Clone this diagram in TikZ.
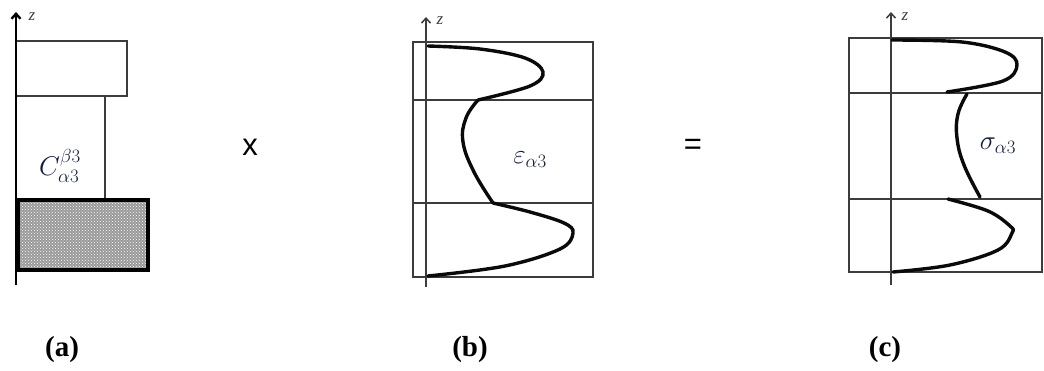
\documentclass[tikz,border=0pt]{standalone}
\usepackage{fix-cm}
\usepackage{amsmath}
\usepackage{fontspec}
\setmainfont{Liberation Serif}
\newfontfamily\arialfont{Liberation Sans}
\usepackage{tikz}
\usetikzlibrary{arrows.meta, patterns}
\definecolor{curveblack}{RGB}{10, 10, 10}
\definecolor{framegray}{RGB}{60, 60, 60}
\definecolor{labelblue}{RGB}{20, 30, 60}
\tikzstyle{frame} = [draw=framegray, line width=1.4pt]
\tikzstyle{zaxis} = [-{Straight Barb[length=5pt, width=9pt]}, line width=1.5pt, draw=framegray]
\tikzstyle{curve} = [line width=3.4pt, draw=curveblack, line cap=round]
\tikzstyle{zlabel} = [font=\fontsize{17}{17}\selectfont\itshape, text=framegray]
\tikzstyle{qty} = [font=\fontsize{27}{27}\selectfont, text=labelblue]
\tikzstyle{caption} = [font=\fontsize{29}{29}\selectfont\bfseries]
\tikzstyle{oper} = [font=\fontsize{31}{31}\selectfont\arialfont]

\begin{document}
\begin{tikzpicture}[x=1pt, y=-1pt]
    \useasboundingbox (0,0) rectangle (1044,370);

    % Panel a
    \draw[frame] (16,41) rectangle (127,96);
    \draw[frame] (105,96) -- (105,198);
    \fill[black!40] (16,198) rectangle (150,272);
    \fill[pattern=crosshatch dots, pattern color=white] (16,198) rectangle (150,272);
    \draw[line width=4.5pt] (18,200) rectangle (148,270);
    \draw[zaxis, line width=2.4pt, draw=black] (16,285) -- (16,12);
    \node[zlabel] (za) at (32,17) {z};
    \node[qty] (coef) at (60,166) {$C_{\alpha 3}^{\beta 3}$};

    % Operator
    \node[oper] (times) at (250,147) {x};

    % Panel b
    \draw[frame] (413,42) rectangle (593,277);
    \draw[frame] (413,100) -- (593,100);
    \draw[frame] (413,203) -- (593,203);
    \draw[zaxis] (426,287) -- (426,17);
    \node[zlabel] (zb) at (440,21) {z};
    \draw[curve] plot[smooth, tension=0.6] coordinates {(428,46) (480,49) (525,58) (543,72) (530,86) (478,100)};
    \draw[curve] plot[smooth, tension=0.7] coordinates {(478,100) (466,118) (463,142) (474,172) (493,203)};
    \draw[curve] plot[smooth, tension=0.6] coordinates {(493,203) (530,212) (564,223) (573,233) (560,249) (505,266) (428,276)};
    \node[qty] (strain) at (530,160) {$\varepsilon_{\alpha 3}$};

    % Operator
    \node[oper] (equals) at (693,147) {=};

    % Panel c
    \draw[frame] (849,38) rectangle (1042,272);
    \draw[frame] (849,93) -- (1042,93);
    \draw[frame] (849,199) -- (1042,199);
    \draw[zaxis] (891,285) -- (891,12);
    \node[zlabel] (zc) at (905,17) {z};
    \draw[curve] plot[smooth, tension=0.6] coordinates {(892,40) (962,42) (1005,52) (1017,65) (1003,81) (947,92)};
    \draw[curve] plot[smooth, tension=0.7] coordinates {(967,94) (958,114) (957,138) (964,165) (980,197)};
    \draw[curve] plot[smooth, tension=0.6] coordinates {(948,199) (988,211) (1010,226) (1012,233) (998,250) (950,265) (893,272)};
    \node[qty] (stress) at (998,146) {$\sigma_{\alpha 3}$};

    % Captions
    \node[caption] (capa) at (62,350) {(a)};
    \node[caption] (capb) at (470,350) {(b)};
    \node[caption] (capc) at (885,350) {(c)};
\end{tikzpicture}
\end{document}
